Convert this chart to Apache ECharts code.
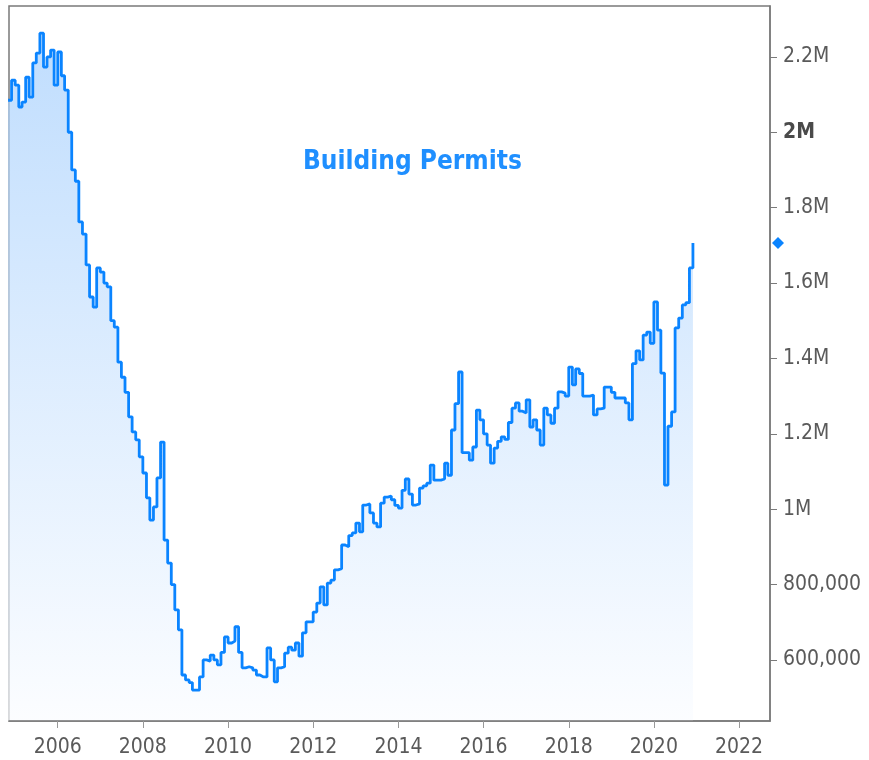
<!DOCTYPE html>
<html lang="en">
<head>
<meta charset="UTF-8">
<title>Building Permits</title>
<script src="https://cdn.jsdelivr.net/npm/echarts@6/dist/echarts.min.js"></script>
<style>html,body{margin:0;padding:0;background:#fff}</style>
</head>
<body>
<div id="main" style="width:869px;height:760px"></div>
<script type="text/javascript">
    // monthly permits (thousands, SAAR), first month = Nov 2004
    var startYear = 2004, startMonth = 10;
    var permits = [
        2085, 2138,                                                             // 2004 Nov-Dec
        2125, 2067, 2080, 2146, 2093, 2184, 2210, 2263, 2173, 2200, 2218, 2125, // 2005
        2213, 2150, 2112, 2000, 1900, 1870, 1762, 1730, 1648, 1563, 1536, 1640, // 2006
        1629, 1600, 1590, 1500, 1483, 1390, 1350, 1310, 1245, 1205, 1184, 1139, // 2007
        1096, 1030, 971, 1006, 1083, 1178, 918, 857, 800, 733, 680, 560,        // 2008
        547, 540, 520, 520, 555, 600, 597, 613, 600, 587, 620, 661,             // 2009
        645, 650, 688, 620, 579, 582, 579, 573, 560, 555, 555, 632,             // 2010
        600, 542, 579, 582, 618, 634, 626, 645, 610, 672, 701, 701,             // 2011
        727, 751, 794, 746, 804, 812, 839, 842, 905, 900, 930, 937,             // 2012
        963, 940, 1011, 1014, 990, 963, 953, 1016, 1032, 1035, 1025, 1010,      // 2013
        1003, 1050, 1080, 1040, 1011, 1014, 1056, 1062, 1069, 1117, 1077, 1077, // 2014
        1080, 1122, 1090, 1210, 1280, 1364, 1150, 1150, 1130, 1165, 1263, 1237, // 2015
        1200, 1170, 1122, 1162, 1180, 1192, 1185, 1230, 1268, 1282, 1260, 1255, // 2016
        1290, 1218, 1237, 1210, 1170, 1268, 1250, 1228, 1268, 1311, 1308, 1300, // 2017
        1377, 1330, 1372, 1360, 1300, 1300, 1303, 1250, 1266, 1268, 1324, 1324, // 2018
        1310, 1295, 1295, 1295, 1282, 1237, 1386, 1420, 1396, 1462, 1470, 1440, // 2019
        1550, 1475, 1361, 1064, 1220, 1258, 1481, 1507, 1542, 1548, 1640, 1706  // 2020
    ];
    var yTicks = [600000, 800000, 1000000, 1200000, 1400000, 1600000, 1800000, 2000000, 2200000];
    var xTickYears = [2006, 2008, 2010, 2012, 2014, 2016, 2018, 2020, 2022];

    var seriesData = [];
    for (var i = 0; i < permits.length; i++) {
        seriesData.push([new Date(startYear, startMonth + i, 1).getTime(), permits[i] * 1000]);
    }
    var xTicks = xTickYears.map(function (y) { return new Date(y, 0, 1).getTime(); });
    var xMin = new Date(2004, 10, 9).getTime();
    var xMax = new Date(2022, 8, 23).getTime();
    var last = seriesData[seriesData.length - 1][1];

    var font = "'DejaVu Sans Condensed', 'Liberation Sans', sans-serif";
    var axisGray = '#7a7a7a';

    var myChart = echarts.init(document.getElementById('main'));
    myChart.setOption({
        backgroundColor: '#fff',
        animation: false,
        grid: {
            left: 9, right: 99, top: 6, bottom: 39, z: 3,
            show: true, borderColor: axisGray, borderWidth: 1.5
        },
        graphic: [{
            type: 'text', left: 303, top: 149,
            style: {
                text: 'Building Permits', fill: '#1f8fff',
                font: "bold 26px " + font
            }
        }],
        xAxis: {
            // timestamps on a plain value axis so the tick years can be listed
            type: 'value',
            min: xMin, max: xMax, z: 3,
            axisLine: { lineStyle: { color: axisGray, width: 1.5 } },
            axisTick: { customValues: xTicks, length: 7, lineStyle: { color: '#999' } },
            axisLabel: {
                customValues: xTicks, margin: 16,
                color: '#5a5a5a', fontSize: 21, fontFamily: font,
                formatter: function (v) { return String(new Date(v).getFullYear()); }
            },
            splitLine: { show: false }
        },
        yAxis: {
            type: 'value',
            position: 'right',
            min: 438000, max: 2335000, z: 3,
            axisLine: { show: true, lineStyle: { color: axisGray, width: 1.5 } },
            axisTick: { show: true, customValues: yTicks, length: 7, lineStyle: { color: axisGray } },
            axisLabel: {
                customValues: yTicks, margin: 13,
                color: '#5a5a5a', fontSize: 21, fontFamily: font,
                formatter: function (v) {
                    if (v === 2000000) return '{b|2M}';
                    if (v >= 1000000) return (v / 1000000) + 'M';
                    return v.toLocaleString('en-US');
                },
                rich: { b: { fontWeight: 'bold', color: '#4a4a4a', fontSize: 21, fontFamily: font } }
            },
            splitLine: { show: false }
        },
        series: [{
            name: 'Building Permits',
            type: 'line',
            step: 'end',
            showSymbol: false,
            data: seriesData,
            lineStyle: { color: '#0a84ff', width: 2.8 },
            itemStyle: { color: '#0a84ff' },
            areaStyle: {
                color: new echarts.graphic.LinearGradient(0, 0, 0, 1, [
                    { offset: 0, color: 'rgb(165,207,253)' },
                    { offset: 1, color: 'rgb(250,252,255)' }
                ])
            },
            markPoint: {
                symbol: 'diamond',
                symbolSize: 12,
                symbolOffset: [8, 0],
                label: { show: false },
                itemStyle: { color: '#0a84ff', borderWidth: 0 },
                data: [{ coord: [xMax, last] }]
            }
        }]
    });
</script>
</body>
</html>
